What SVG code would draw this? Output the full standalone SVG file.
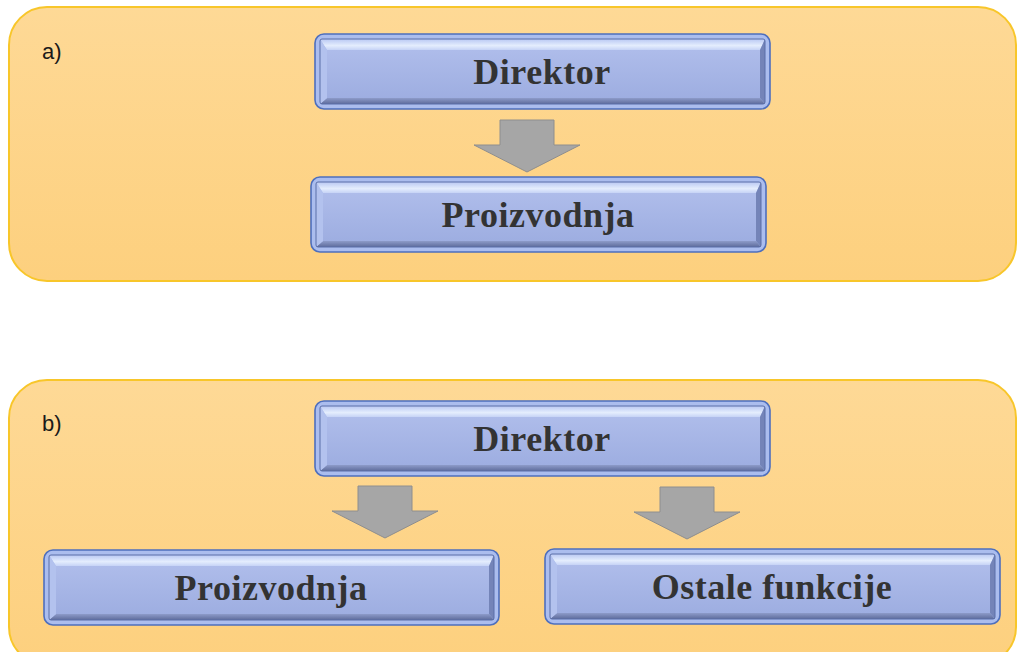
<svg xmlns="http://www.w3.org/2000/svg" width="1017" height="652" viewBox="0 0 1017 652">
  <defs>
    <linearGradient id="panelGrad" x1="0" y1="0" x2="0" y2="1">
      <stop offset="0" stop-color="#fed996"/>
      <stop offset="1" stop-color="#fdd07e"/>
    </linearGradient>
    <linearGradient id="faceGrad" x1="0" y1="0" x2="0" y2="1">
      <stop offset="0" stop-color="#aebcea"/>
      <stop offset="1" stop-color="#9eaee1"/>
    </linearGradient>
    <linearGradient id="topBevel" x1="0" y1="0" x2="0" y2="1">
      <stop offset="0" stop-color="#b9c8f3"/>
      <stop offset="0.6" stop-color="#e4edfd"/>
      <stop offset="1" stop-color="#c6d3f6"/>
    </linearGradient>
    <linearGradient id="botBevel" x1="0" y1="0" x2="0" y2="1">
      <stop offset="0" stop-color="#8d9bc9"/>
      <stop offset="1" stop-color="#5e6c9c"/>
    </linearGradient>
    <g id="box">
      <rect x="1" y="1" width="455" height="75" rx="9" ry="9" fill="#abbdee" stroke="#4e6fbd" stroke-width="1.6"/>
      <polygon points="6,6 451,6 446,17 13,17" fill="url(#topBevel)"/>
      <polygon points="6,71 451,71 446,65 13,65" fill="url(#botBevel)"/>
      <polygon points="6,6 13,17 13,65 6,71" fill="#b3c2ee"/>
      <polygon points="451,6 446,17 446,65 451,71" fill="#7484b8"/>
      <rect x="13" y="17" width="433" height="48" fill="url(#faceGrad)"/>
      <rect x="6" y="6" width="445" height="65" rx="2" ry="2" fill="none" stroke="#5b6fa8" stroke-width="1"/>
    </g>
    <polygon id="arrow" points="-27,0 27,0 27,25 53,25 0,52 -53,25 -27,25" fill="#a6a6a6" stroke="#8e8e8e" stroke-width="1"/>
  </defs>
  <style>
    .panel { fill: url(#panelGrad); stroke: #f8c62a; stroke-width: 2; }
    .lbl { font-family: "Liberation Sans", Arial, sans-serif; font-size: 22px; fill: #1a1a1a; }
    .t { font-family: "Liberation Serif", "Times New Roman", serif; font-weight: bold; font-size: 36px; fill: #333333; text-anchor: middle; letter-spacing: 0.5px; }
  </style>

  <g id="panel-a">
    <rect class="panel" x="9" y="7" width="1007" height="274" rx="38" ry="38"/>
    <text class="lbl" x="42" y="59">a)</text>
  </g>
  <g id="panel-b">
    <rect class="panel" x="9" y="380" width="1007" height="285" rx="38" ry="38"/>
    <text class="lbl" x="42" y="431">b)</text>
  </g>

  <g id="connectors">
    <use href="#arrow" x="527" y="120"/>
    <use href="#arrow" x="385" y="486"/>
    <use href="#arrow" x="687" y="487"/>
  </g>

  <g id="a-direktor">
    <use href="#box" x="314" y="33"/>
    <text class="t" x="542" y="84">Direktor</text>
  </g>
  <g id="a-proizvodnja">
    <use href="#box" x="310" y="176"/>
    <text class="t" x="538" y="227">Proizvodnja</text>
  </g>
  <g id="b-direktor">
    <use href="#box" x="314" y="400"/>
    <text class="t" x="542" y="451">Direktor</text>
  </g>
  <g id="b-proizvodnja">
    <use href="#box" x="43" y="549"/>
    <text class="t" x="271" y="600">Proizvodnja</text>
  </g>
  <g id="b-ostale">
    <use href="#box" x="544" y="548"/>
    <text class="t" x="772" y="599">Ostale funkcije</text>
  </g>
</svg>
